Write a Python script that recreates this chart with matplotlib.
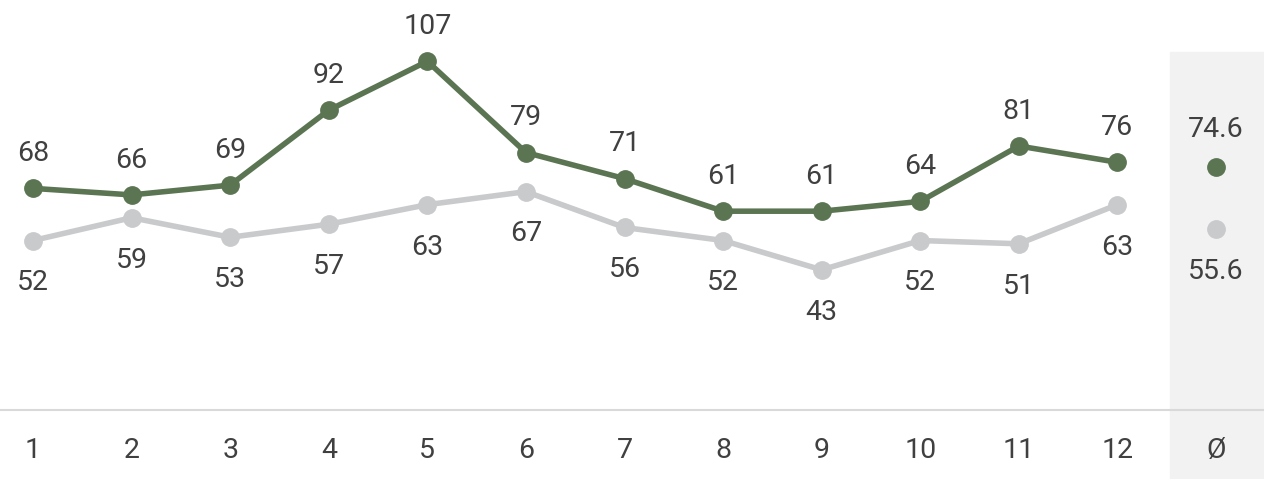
import matplotlib.pyplot as plt
from matplotlib.patches import Rectangle

plt.rcParams['font.family'] = ['Roboto', 'DejaVu Sans']

months = [1, 2, 3, 4, 5, 6, 7, 8, 9, 10, 11, 12]
serie_verde = [68, 66, 69, 92, 107, 79, 71, 61, 61, 64, 81, 76]
serie_cinza = [52, 59, 53, 57, 63, 67, 56, 52, 43, 52, 51, 63]
media_verde = 74.6
media_cinza = 55.6
tick_labels = ['1', '2', '3', '4', '5', '6', '7', '8', '9', '10', '11', '12', 'Ø']

verde = '#5b7553'
cinza = '#c9cacc'
texto = '#404040'

fig = plt.figure(figsize=(12.64, 4.79), dpi=100)

# coluna sombreada da média
fig.add_artist(Rectangle((1170 / 1264, 0), 94 / 1264, 427 / 479,
                         transform=fig.transFigure, color='#f2f2f2', zorder=0))

ax = fig.add_axes([0, 69 / 479, 1, 410 / 479])
ax.patch.set_alpha(0)
ax.set_xlim(0.665, 13.487)
ax.set_ylim(0, 125.8)
for s in ax.spines.values():
    s.set_visible(False)
ax.set_yticks([])
ax.set_xticks([])

ax.axhline(0, color='#d9d9d9', lw=1.5, clip_on=False, zorder=1)

ax.plot(months, serie_cinza, color=cinza, lw=4, marker='o', ms=12.5, zorder=2)
ax.plot(months, serie_verde, color=verde, lw=4, marker='o', ms=12.5, zorder=3)
ax.plot([13], [media_verde], 'o', color=verde, ms=12.5, zorder=3)
ax.plot([13], [media_cinza], 'o', color=cinza, ms=12.5, zorder=2)

fs = 20.5
for x, v in zip(months, serie_verde):
    ax.annotate(str(v), (x, v), xytext=(0, 25), textcoords='offset points',
                ha='center', va='center', fontsize=fs, color=texto)
for x, v in zip(months, serie_cinza):
    ax.annotate(str(v), (x, v), xytext=(0, -30.5), textcoords='offset points',
                ha='center', va='center', fontsize=fs, color=texto)
ax.annotate(f'{media_verde:.1f}', (13, media_verde), xytext=(0, 27), textcoords='offset points',
            ha='center', va='center', fontsize=fs, color=texto)
ax.annotate(f'{media_cinza:.1f}', (13, media_cinza), xytext=(0, -31), textcoords='offset points',
            ha='center', va='center', fontsize=fs, color=texto)

for i, lab in enumerate(tick_labels):
    ax.annotate(lab, (i + 1, 0), xytext=(0, -29.5), textcoords='offset points',
                ha='center', va='center', fontsize=fs, color=texto, annotation_clip=False)

fig.savefig('out.png', dpi=100)
